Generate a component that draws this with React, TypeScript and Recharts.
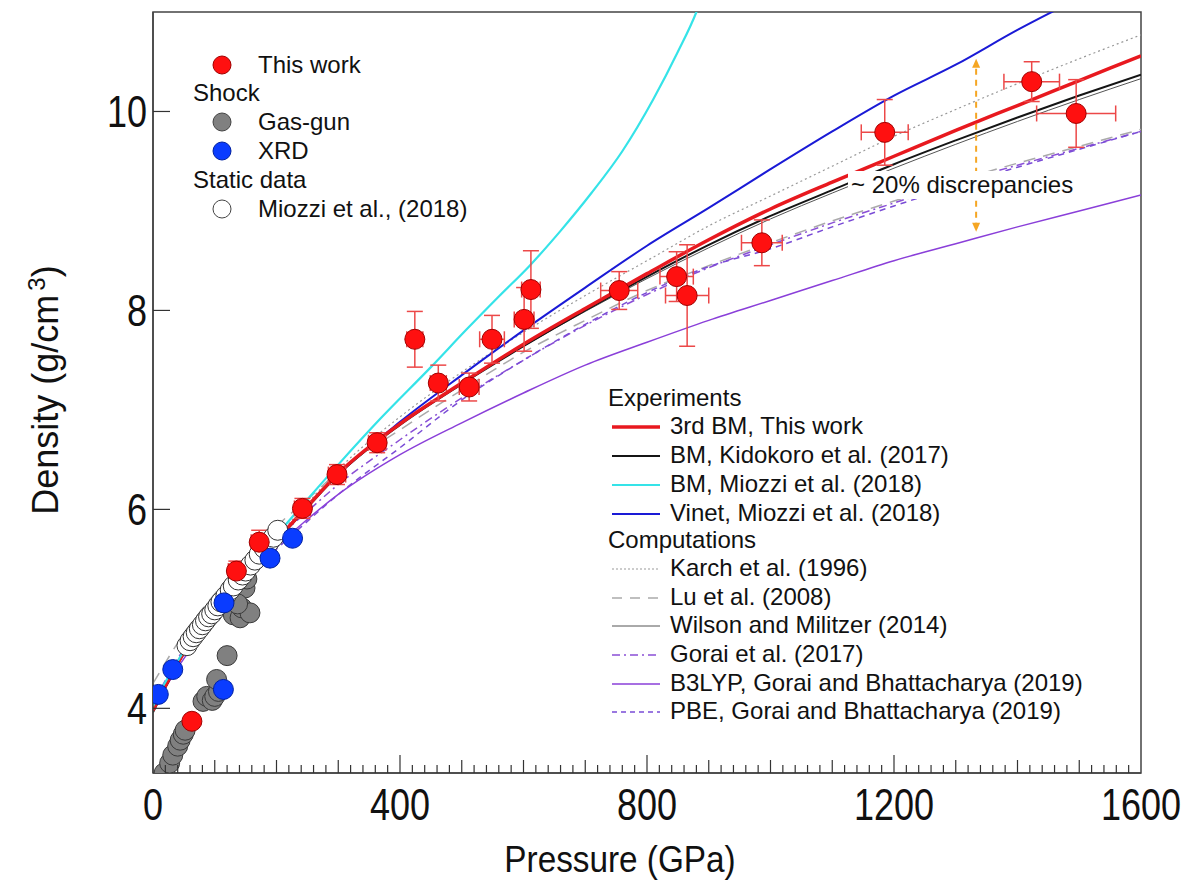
import React from "react";
import {
  ComposedChart,
  Line,
  Scatter,
  XAxis,
  YAxis,
  ErrorBar,
  ReferenceArea,
} from "recharts";

// pressure grid (GPa) shared by most EOS curves
const GRID = [0, 50, 100, 150, 200, 250, 300, 400, 500, 600, 700, 800, 900, 1000, 1100, 1200, 1300, 1400, 1500, 1600];

// densities (g/cm3) on GRID
const bmThisWork = [3.98, 4.56, 4.98, 5.35, 5.69, 6.03, 6.36, 6.86, 7.27, 7.66, 8.02, 8.37, 8.71, 9.02, 9.29, 9.55, 9.81, 10.06, 10.31, 10.56];
const bmKidokoro = [3.96, 4.55, 4.97, 5.34, 5.68, 6.02, 6.35, 6.85, 7.26, 7.64, 8.0, 8.34, 8.66, 8.95, 9.21, 9.47, 9.71, 9.94, 10.16, 10.37];
const vinetMiozzi = [3.98, 4.56, 4.98, 5.35, 5.7, 6.03, 6.35, 6.88, 7.35, 7.8, 8.23, 8.65, 9.03, 9.42, 9.8, 10.16, 10.47, 10.82, 11.14, 11.45];
const karch = [4.0, 4.57, 5.0, 5.37, 5.72, 6.06, 6.4, 6.93, 7.38, 7.78, 8.15, 8.5, 8.85, 9.15, 9.45, 9.75, 10.02, 10.28, 10.53, 10.77];
const lu = [4.25, 4.75, 5.15, 5.5, 5.83, 6.1, 6.38, 6.8, 7.2, 7.58, 7.9, 8.2, 8.45, 8.68, 8.9, 9.1, 9.3, 9.48, 9.65, 9.82];
const wilson = [4.0, 4.57, 4.99, 5.36, 5.7, 6.03, 6.36, 6.86, 7.27, 7.64, 7.99, 8.32, 8.63, 8.92, 9.18, 9.43, 9.67, 9.9, 10.12, 10.33];
const gorai2017 = [4.05, 4.6, 5.02, 5.38, 5.7, 5.98, 6.25, 6.7, 7.12, 7.5, 7.85, 8.16, 8.43, 8.66, 8.88, 9.08, 9.28, 9.46, 9.63, 9.8];
const b3lyp = [4.0, 4.5, 4.9, 5.27, 5.62, 5.9, 6.15, 6.55, 6.87, 7.17, 7.45, 7.68, 7.9, 8.1, 8.3, 8.5, 8.67, 8.84, 9.0, 9.16];
const pbe = [4.0, 4.55, 4.95, 5.3, 5.6, 5.88, 6.15, 6.62, 7.1, 7.5, 7.86, 8.18, 8.44, 8.62, 8.84, 9.05, 9.25, 9.44, 9.62, 9.8];

// BM Miozzi shoots off the top, own grid
const bmMiozziP = [0, 10, 30, 60, 100, 150, 200, 250, 300, 368, 450, 508, 560, 610, 660, 710, 760, 810, 850, 880, 900];
const bmMiozziD = [4.02, 4.15, 4.37, 4.67, 4.96, 5.37, 5.74, 6.1, 6.45, 6.91, 7.43, 7.81, 8.14, 8.45, 8.8, 9.18, 9.6, 10.12, 10.6, 11.0, 11.35];

// This work (with errors)
const twP = [63, 135, 172, 242, 298, 363, 424, 462, 512, 549, 601, 612, 755, 848, 865, 986, 1185, 1423, 1495];
const twD = [3.87, 5.38, 5.67, 6.01, 6.35, 6.67, 7.71, 7.27, 7.23, 7.71, 7.91, 8.21, 8.2, 8.34, 8.15, 8.68, 9.79, 10.3, 9.98];
const twPErr = [5, 13, 13, 13, 14, 14, 13, 13, 16, 20, 16, 15, 30, 27, 35, 33, 38, 45, 64];
const twDErr = [0.05, 0.1, 0.12, 0.1, 0.1, 0.1, 0.28, 0.18, 0.14, 0.24, 0.32, 0.39, 0.19, 0.25, 0.51, 0.23, 0.33, 0.2, 0.34];

// shock, gas-gun
const gasGunP = [18, 27, 32, 40, 44, 49, 52, 81, 87, 96, 100, 106, 103, 120, 130, 141, 144, 157, 149, 137, 152];
const gasGunD = [3.35, 3.45, 3.53, 3.62, 3.68, 3.74, 3.78, 4.07, 4.12, 4.08, 4.12, 4.17, 4.29, 4.53, 4.94, 4.91, 5.01, 4.96, 5.21, 5.05, 5.3];

// shock, XRD
const xrdP = [8.6, 32, 114, 115, 189.5, 226];
const xrdD = [4.14, 4.39, 4.19, 5.06, 5.51, 5.71];

// static, Miozzi et al. 2018
const miozziP = [55, 60, 65, 70, 75, 80, 85, 90, 95, 100, 105, 110, 118, 125, 130, 138, 145, 150, 158, 165, 172, 180, 188, 195, 202];
const miozziD = [4.63, 4.68, 4.72, 4.76, 4.8, 4.84, 4.88, 4.92, 4.95, 4.99, 5.03, 5.07, 5.13, 5.19, 5.23, 5.29, 5.34, 5.38, 5.44, 5.49, 5.55, 5.61, 5.67, 5.72, 5.79];

// ~20% discrepancy arrow
const arrowP = [1333, 1333];
const arrowD = [8.82, 10.5];

const xTicks = Array.from({ length: 81 }, (_, i) => i * 20);
const yTicks = [4, 6, 8, 10];

const zip = (p: number[], d: number[]) => p.map((v, i) => ({ p: v, d: d[i] }));
const onGrid = (d: number[]) => zip(GRID, d);

const thisWork = twP.map((v, i) => ({ p: v, d: twD[i], pe: twPErr[i], de: twDErr[i] }));

const FONT = "'Liberation Sans', Arial, sans-serif";

const XTick = (props: any) => {
  const { x, y, payload } = props;
  const v = payload.value;
  const major = v % 400 === 0;
  const len = major ? 18 : v % 100 === 0 ? 13 : 8;
  return (
    <g>
      {v > 0 && v < 1600 && (
        <line x1={x} x2={x} y1={y} y2={y - len} stroke="#333" strokeWidth={1.2} />
      )}
      {major && (
        <text transform={`translate(${x},${y + 47}) scale(0.8,1)`} textAnchor="middle" fontSize={45} fontFamily={FONT} fill="#111">
          {v}
        </text>
      )}
    </g>
  );
};

const YTick = (props: any) => {
  const { x, y, payload } = props;
  return (
    <g>
      <line x1={x} x2={x + 17} y1={y} y2={y} stroke="#333" strokeWidth={1.2} />
      <text transform={`translate(${x - 6},${y + 16}) scale(0.8,1)`} textAnchor="end" fontSize={45} fontFamily={FONT} fill="#111">
        {payload.value}
      </text>
    </g>
  );
};

const dot = (fill: string, stroke: string) => (props: any) =>
  <circle cx={props.cx} cy={props.cy} r={10} fill={fill} stroke={stroke} strokeWidth={1} />;

const ArrowHead = (props: any) => {
  const { cx, cy, index } = props;
  if (cx == null || cy == null) return null;
  const dir = index === 0 ? 1 : -1;
  return (
    <path
      key={index}
      d={`M${cx - 4},${cy - dir * 6} L${cx + 4},${cy - dir * 6} L${cx},${cy + dir * 3} Z`}
      fill="#f5a623"
    />
  );
};

const legendLeft = [
  { label: "This work", color: "#ff1010", edge: "#a00000", y: 65 },
  { label: "Shock", y: 93 },
  { label: "Gas-gun", color: "#808080", edge: "#444", y: 122 },
  { label: "XRD", color: "#0a3cff", edge: "#0020a0", y: 151 },
  { label: "Static data", y: 180 },
  { label: "Miozzi et al., (2018)", color: "#fff", edge: "#444", y: 209 },
];

const legendRight = [
  { label: "Experiments", y: 398 },
  { label: "3rd BM, This work", stroke: "#e8191f", w: 3.5, y: 426 },
  { label: "BM, Kidokoro et al. (2017)", stroke: "#151515", w: 2, y: 455 },
  { label: "BM, Miozzi et al. (2018)", stroke: "#35e3e8", w: 2, y: 484 },
  { label: "Vinet, Miozzi et al. (2018)", stroke: "#1a1ad6", w: 2, y: 513 },
  { label: "Computations", y: 540 },
  { label: "Karch et al. (1996)", stroke: "#999", w: 1.2, dash: "2 2", y: 568 },
  { label: "Lu et al. (2008)", stroke: "#aaa", w: 1.5, dash: "10 8", y: 597 },
  { label: "Wilson and Militzer (2014)", stroke: "#555", w: 1, y: 625 },
  { label: "Gorai et al. (2017)", stroke: "#8a4fd6", w: 1.5, dash: "8 4 2 4", y: 654 },
  { label: "B3LYP, Gorai and Bhattacharya (2019)", stroke: "#8a3fd9", w: 1.5, y: 683 },
  { label: "PBE, Gorai and Bhattacharya (2019)", stroke: "#7a4cd6", w: 1.5, dash: "5 4", y: 711 },
];

export default function App() {
  return (
    <div style={{ position: "absolute", left: 0, top: 0, width: 1186, height: 886, background: "#fff", fontFamily: FONT }}>
      <ComposedChart width={1186} height={886} margin={{ top: 12, right: 45, bottom: 33, left: 0 }}>
        <XAxis
          dataKey="p"
          type="number"
          domain={[0, 1600]}
          ticks={xTicks}
          interval={0}
          allowDataOverflow
          height={80}
          tickSize={0}
          tickMargin={0}
          tickLine={false}
          axisLine={{ stroke: "#444", strokeWidth: 1.5 }}
          tick={<XTick />}
        />
        <YAxis
          dataKey="d"
          type="number"
          domain={[3.35, 11]}
          ticks={yTicks}
          allowDataOverflow
          width={153}
          tickSize={0}
          tickMargin={0}
          tickLine={false}
          axisLine={{ stroke: "#444", strokeWidth: 1.5 }}
          tick={<YTick />}
        />
        <ReferenceArea x1={0} x2={1600} y1={3.35} y2={11} fill="none" fillOpacity={0} stroke="#444" strokeWidth={1.5} />

        <Scatter data={zip(gasGunP, gasGunD)} dataKey="d" shape={dot("#808080", "#3a3a3a")} isAnimationActive={false} />
        <Scatter data={zip(miozziP, miozziD)} dataKey="d" shape={dot("#ffffff", "#333")} isAnimationActive={false} />

        <Line data={onGrid(karch)} dataKey="d" type="monotone" stroke="#999" strokeWidth={1.2} strokeDasharray="2 3" dot={false} isAnimationActive={false} />
        <Line data={onGrid(lu)} dataKey="d" type="monotone" stroke="#aaa" strokeWidth={1.5} strokeDasharray="12 8" dot={false} isAnimationActive={false} />
        <Line data={onGrid(wilson)} dataKey="d" type="monotone" stroke="#555" strokeWidth={1} dot={false} isAnimationActive={false} />
        <Line data={onGrid(gorai2017)} dataKey="d" type="monotone" stroke="#8a4fd6" strokeWidth={1.5} strokeDasharray="8 4 2 4" dot={false} isAnimationActive={false} />
        <Line data={onGrid(pbe)} dataKey="d" type="monotone" stroke="#7a4cd6" strokeWidth={1.5} strokeDasharray="6 5" dot={false} isAnimationActive={false} />
        <Line data={onGrid(b3lyp)} dataKey="d" type="monotone" stroke="#8a3fd9" strokeWidth={1.5} dot={false} isAnimationActive={false} />
        <Line data={onGrid(vinetMiozzi)} dataKey="d" type="monotone" stroke="#1a1ad6" strokeWidth={2} dot={false} isAnimationActive={false} />
        <Line data={onGrid(bmKidokoro)} dataKey="d" type="monotone" stroke="#151515" strokeWidth={2} dot={false} isAnimationActive={false} />
        <Line data={onGrid(bmThisWork)} dataKey="d" type="monotone" stroke="#e8191f" strokeWidth={3.5} dot={false} isAnimationActive={false} />

        <Scatter data={zip(xrdP, xrdD)} dataKey="d" shape={dot("#0a3cff", "#0020a0")} isAnimationActive={false} />
        <Line data={zip(bmMiozziP, bmMiozziD)} dataKey="d" type="monotone" stroke="#35e3e8" strokeWidth={2.2} dot={false} isAnimationActive={false} />

        <Line data={zip(arrowP, arrowD)} dataKey="d" stroke="#f5a623" strokeWidth={2} strokeDasharray="6 5" dot={<ArrowHead />} isAnimationActive={false} />

        <Scatter data={thisWork} dataKey="d" shape={dot("#ff1010", "#a00000")} isAnimationActive={false}>
          <ErrorBar dataKey="pe" direction="x" width={8} stroke="#ec4848" strokeWidth={1.5} />
          <ErrorBar dataKey="de" direction="y" width={8} stroke="#ec4848" strokeWidth={1.5} />
        </Scatter>
      </ComposedChart>

      {/* annotation */}
      <div style={{ position: "absolute", left: 848, top: 171, background: "#fff", fontSize: 24, lineHeight: "28px", padding: "0 3px", whiteSpace: "nowrap", color: "#111" }}>
        ~ 20% discrepancies
      </div>

      {/* axis titles */}
      <div style={{ position: "absolute", left: 620, top: 860, transform: "translate(-50%,-50%) scale(0.9,1)", fontSize: 37, whiteSpace: "nowrap", color: "#111" }}>
        Pressure (GPa)
      </div>
      <div style={{ position: "absolute", left: 45, top: 390, transform: "translate(-50%,-50%) rotate(-90deg)", fontSize: 36, whiteSpace: "nowrap", color: "#111" }}>
        Density (g/cm<sup style={{ fontSize: 24, marginLeft: 4 }}>3</sup>)
      </div>

      {/* left legend */}
      {legendLeft.map((r) => (
        <div key={r.label} style={{ position: "absolute", top: r.y - 14, left: r.color ? 258 : 193, fontSize: 24, lineHeight: "28px", whiteSpace: "nowrap", color: "#111" }}>
          {r.color && (
            <svg width={24} height={24} style={{ position: "absolute", left: -48, top: 2 }}>
              <circle cx={12} cy={12} r={9} fill={r.color} stroke={r.edge} strokeWidth={1} />
            </svg>
          )}
          {r.label}
        </div>
      ))}

      {/* right legend */}
      {legendRight.map((r) => (
        <div key={r.label} style={{ position: "absolute", top: r.y - 14, left: r.stroke ? 670 : 608, fontSize: 24, lineHeight: "28px", whiteSpace: "nowrap", color: "#111" }}>
          {r.stroke && (
            <svg width={50} height={10} style={{ position: "absolute", left: -58, top: 10 }}>
              <line x1={0} x2={48} y1={5} y2={5} stroke={r.stroke} strokeWidth={r.w} strokeDasharray={r.dash} />
            </svg>
          )}
          {r.label}
        </div>
      ))}
    </div>
  );
}
